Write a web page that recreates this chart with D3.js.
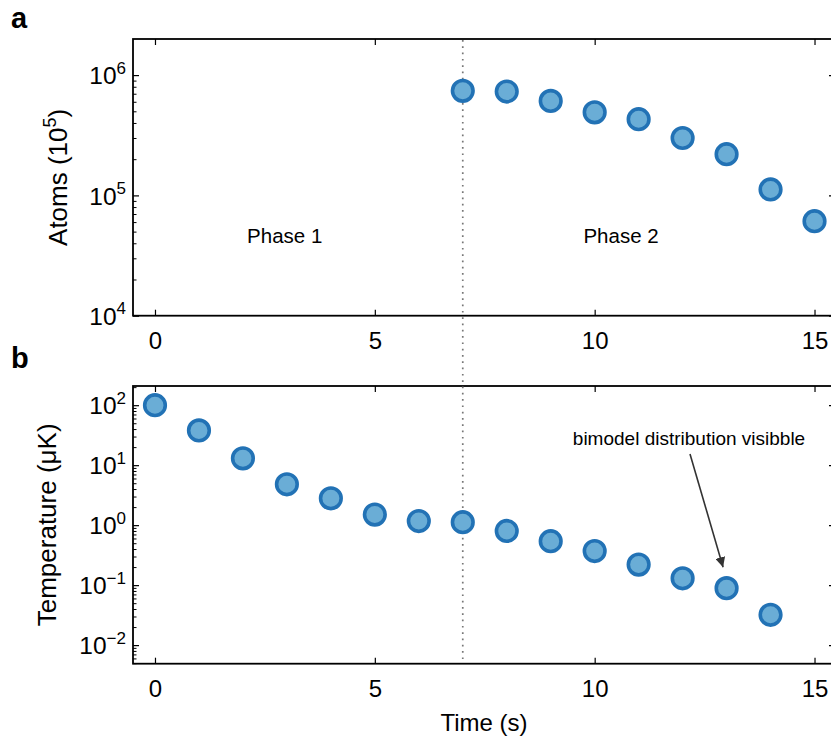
<!DOCTYPE html>
<html>
<head>
<meta charset="utf-8">
<script src="https://cdn.jsdelivr.net/npm/d3@7"></script>
<style>
  html, body { margin: 0; padding: 0; background: #fff; }
  svg { display: block; }
  text { font-family: "Liberation Sans", Arial, Helvetica, sans-serif; fill: #000; }
</style>
</head>
<body>
<script>
// ---------------- data ----------------
const atomsTime   = [7, 8, 9, 10, 11, 12, 13, 14, 15];
const atomsValues = [7.4e5, 7.3e5, 6.1e5, 4.9e5, 4.3e5, 3.0e5, 2.2e5, 1.12e5, 6.1e4];

const tempTime   = [0, 1, 2, 3, 4, 5, 6, 7, 8, 9, 10, 11, 12, 13, 14];
const tempValues = [100, 38, 13, 4.8, 2.8, 1.5, 1.17, 1.12, 0.8, 0.54, 0.37, 0.22, 0.13, 0.089, 0.032];

const xTicks = [0, 5, 10, 15];
const atomsTickExponents = [4, 5, 6];
const tempTickExponents  = [-2, -1, 0, 1, 2];

const phaseBoundary = 7;
const phaseLabels = [{text: "Phase 1", t: 2.95}, {text: "Phase 2", t: 10.6}];
const annotationText = "bimodel distribution visibble";
const annotationPoint = 13;

// ---------------- layout ----------------
const W = 831, H = 739;
const left = 133, right = 835;
const aTop = 39, aBot = 315.7;
const bTop = 386, bBot = 663.7;

const svg = d3.select("body").append("svg").attr("width", W).attr("height", H);

const x = d3.scaleLinear().domain([-0.5, 15.5]).range([left, 836.5]);
const yA = d3.scaleLog().domain([1e4, Math.pow(10, 6.3)]).range([aBot, aTop]);
const yB = d3.scaleLog().domain([Math.pow(10, -2.31), Math.pow(10, 2.32)]).range([bBot, bTop]);

function minorTicks(scale) {
  const [d0, d1] = scale.domain();
  const out = [];
  for (let e = Math.floor(Math.log10(d0)) - 1; e <= Math.ceil(Math.log10(d1)); e++) {
    for (let m = 2; m <= 9; m++) {
      const v = m * Math.pow(10, e);
      if (v >= d0 && v <= d1) out.push(v);
    }
  }
  return out;
}

const supMinus = n => (n < 0 ? "\u2212" + (-n) : String(n));

function drawPanel(y, top, bot, exps) {
  const g = svg.append("g");
  const majors = exps.map(e => Math.pow(10, e));

  // left major ticks with labels
  const gl = g.append("g").attr("transform", `translate(${left},0)`)
    .call(d3.axisLeft(y).tickValues(majors).tickSize(-6).tickFormat(() => ""));
  gl.select(".domain").remove();
  gl.selectAll(".tick line").attr("stroke", "#000").attr("stroke-width", 1.2);
  gl.selectAll(".tick text").remove();
  gl.selectAll(".tick").each(function(d, i) {
    const t = d3.select(this).append("text")
      .attr("x", -7).attr("y", 8.7)
      .attr("text-anchor", "end")
      .style("font-size", "24.5px");
    t.append("tspan").text("10");
    t.append("tspan").attr("dy", -10.5).style("font-size", "17px").text(supMinus(exps[i]));
  });
  // left minor ticks
  const glm = g.append("g").attr("transform", `translate(${left},0)`)
    .call(d3.axisLeft(y).tickValues(minorTicks(y)).tickSize(-3.5).tickFormat(() => ""));
  glm.select(".domain").remove();
  glm.selectAll(".tick line").attr("stroke", "#000").attr("stroke-width", 1);

  // right ticks
  const gr = g.append("g").attr("transform", `translate(${right},0)`)
    .call(d3.axisRight(y).tickValues(majors).tickSize(-6).tickFormat(() => ""));
  gr.select(".domain").remove();
  gr.selectAll(".tick line").attr("stroke", "#000").attr("stroke-width", 1.2);
  const grm = g.append("g").attr("transform", `translate(${right},0)`)
    .call(d3.axisRight(y).tickValues(minorTicks(y)).tickSize(-3.5).tickFormat(() => ""));
  grm.select(".domain").remove();
  grm.selectAll(".tick line").attr("stroke", "#000").attr("stroke-width", 1);

  // bottom ticks with labels
  const gb = g.append("g").attr("transform", `translate(0,${bot})`)
    .call(d3.axisBottom(x).tickValues(xTicks).tickSize(-6).tickPadding(16).tickFormat(d3.format("d")));
  gb.select(".domain").remove();
  gb.selectAll(".tick line").attr("stroke", "#000").attr("stroke-width", 1.2);
  gb.selectAll(".tick text").style("font-size", "24px")
    .style("font-family", '"Liberation Sans", Arial, Helvetica, sans-serif').attr("fill", "#000");

  // top ticks
  const gt = g.append("g").attr("transform", `translate(0,${top})`)
    .call(d3.axisTop(x).tickValues(xTicks).tickSize(-6).tickFormat(() => ""));
  gt.select(".domain").remove();
  gt.selectAll(".tick line").attr("stroke", "#000").attr("stroke-width", 1.2);

  // frame
  g.append("rect").attr("x", left).attr("y", top)
    .attr("width", right - left).attr("height", bot - top)
    .attr("fill", "none").attr("stroke", "#000").attr("stroke-width", 1.8);
  return g;
}

drawPanel(yA, aTop, aBot, atomsTickExponents);
drawPanel(yB, bTop, bBot, tempTickExponents);

// dotted phase boundary across both panels
svg.append("line")
  .attr("x1", x(phaseBoundary)).attr("x2", x(phaseBoundary))
  .attr("y1", aTop + 1).attr("y2", bBot - 1)
  .attr("stroke", "#777").attr("stroke-width", 1.7)
  .attr("stroke-dasharray", "1.7,4.6");

// markers
const markerFill = "#6aadd6", markerStroke = "#2272b5";
svg.append("g").selectAll("circle").data(atomsTime.map((t, i) => [t, atomsValues[i]]))
  .join("circle")
  .attr("cx", d => x(d[0])).attr("cy", d => yA(d[1])).attr("r", 10.3)
  .attr("fill", markerFill).attr("stroke", markerStroke).attr("stroke-width", 3.6);

svg.append("g").selectAll("circle").data(tempTime.map((t, i) => [t, tempValues[i]]))
  .join("circle")
  .attr("cx", d => x(d[0])).attr("cy", d => yB(d[1])).attr("r", 10.3)
  .attr("fill", markerFill).attr("stroke", markerStroke).attr("stroke-width", 3.6);

// phase labels
svg.append("g").selectAll("text").data(phaseLabels).join("text")
  .attr("x", d => x(d.t)).attr("y", yA(4e4))
  .attr("text-anchor", "middle").style("font-size", "20.5px")
  .text(d => d.text);

// annotation
const defs = svg.append("defs");
defs.append("marker").attr("id", "arrowhead")
  .attr("viewBox", "0 0 10 10").attr("refX", 10).attr("refY", 5)
  .attr("markerWidth", 10).attr("markerHeight", 10)
  .attr("markerUnits", "userSpaceOnUse")
  .attr("orient", "auto")
  .append("path").attr("d", "M0,0 L10,5 L0,10 Z").attr("fill", "#333");

const tx = 689, ty = 445;
svg.append("text").attr("x", tx).attr("y", ty)
  .attr("text-anchor", "middle").style("font-size", "19px")
  .text(annotationText);
const px = x(annotationPoint) - 3.5, py = yB(tempValues[annotationPoint]) - 21;
svg.append("line")
  .attr("x1", tx + 1).attr("y1", ty + 9)
  .attr("x2", px).attr("y2", py)
  .attr("stroke", "#333").attr("stroke-width", 1.6)
  .attr("marker-end", "url(#arrowhead)");

// axis labels
svg.append("text")
  .attr("transform", `translate(67,${(aTop + aBot) / 2}) rotate(-90)`)
  .attr("text-anchor", "middle").style("font-size", "26px")
  .call(t => {
    t.append("tspan").text("Atoms (10");
    t.append("tspan").attr("dy", -11).style("font-size", "18px").text("5");
    t.append("tspan").attr("dy", 11).text(")");
  });

svg.append("text")
  .attr("transform", `translate(56,${(bTop + bBot) / 2}) rotate(-90)`)
  .attr("text-anchor", "middle").style("font-size", "26px")
  .text("Temperature (\u03bcK)");

svg.append("text")
  .attr("x", (left + right) / 2).attr("y", 731)
  .attr("text-anchor", "middle").style("font-size", "24px")
  .text("Time (s)");

// panel letters
svg.append("text").attr("x", 11).attr("y", 28)
  .style("font-size", "29px").style("font-weight", "bold").text("a");
svg.append("text").attr("x", 11).attr("y", 368)
  .style("font-size", "29px").style("font-weight", "bold").text("b");
</script>
</body>
</html>
